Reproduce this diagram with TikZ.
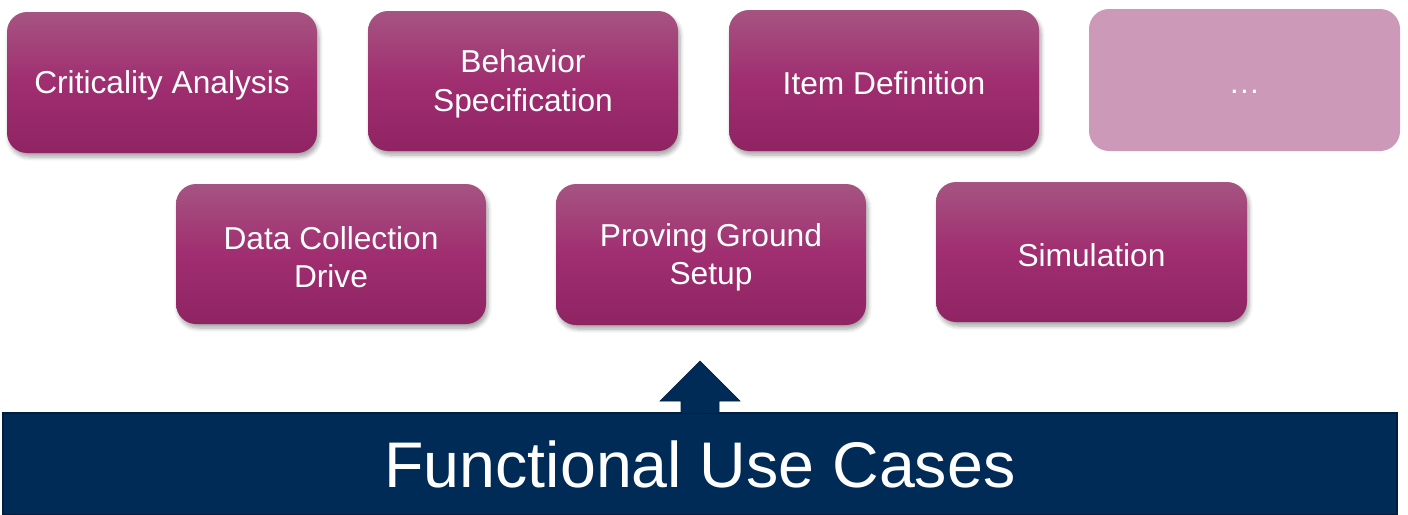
\documentclass[tikz,border=0pt]{standalone}
\usepackage{fontspec}
\setmainfont{Liberation Sans}
\usetikzlibrary{shadows,shadows.blur}
\definecolor{boxtop}{RGB}{166,84,130}
\definecolor{boxmid}{RGB}{160,46,112}
\definecolor{boxbot}{RGB}{143,36,99}
\definecolor{boxlight}{RGB}{205,153,185}
\definecolor{navy}{RGB}{0,43,86}
\definecolor{navyedge}{RGB}{0,30,62}
\tikzset{
  ucbox/.style={rounded corners=20pt, top color=boxtop, bottom color=boxbot, middle color=boxmid,
    blur shadow={shadow xshift=2pt, shadow yshift=-4pt, shadow blur steps=6, shadow opacity=35, shadow blur radius=4pt},
    inner sep=0pt},
  lightbox/.style={rounded corners=20pt, fill=boxlight, inner sep=0pt},
  uctext/.style={text=white, font=\fontsize{31.7}{38.5}\selectfont, align=center, inner sep=0pt, yshift=-3pt},
}
\begin{document}
\begin{tikzpicture}[x=1pt,y=-1pt]
\useasboundingbox (0,0) rectangle (1408,514);
% top row
\node[ucbox, minimum width=310pt, minimum height=141pt, label={[uctext]center:Criticality Analysis}] (ca) at (162,82.5) {};
\node[ucbox, minimum width=310pt, minimum height=140pt, label={[uctext]center:Behavior\\Specification}] (bs) at (523,81) {};
\node[ucbox, minimum width=310pt, minimum height=141pt, label={[uctext]center:Item Definition}] (id) at (884,80.5) {};
\node[lightbox, minimum width=311pt, minimum height=142pt] (more) at (1244.5,80) {};
\node[uctext, yshift=-9pt] (moretext) at (more.center) {…};
% second row
\node[ucbox, minimum width=310pt, minimum height=140pt, label={[uctext]center:Data Collection\\Drive}] (dc) at (331,254) {};
\node[ucbox, minimum width=310pt, minimum height=141pt, label={[uctext]center:Proving Ground\\Setup}] (pg) at (711,254.5) {};
\node[ucbox, minimum width=311pt, minimum height=140pt, label={[uctext]center:Simulation}] (sim) at (1091.5,252) {};
% bottom bar
\node[fill=navy, draw=navyedge, line width=1.5pt, minimum width=1394pt, minimum height=102pt, inner sep=0pt,
  text=white, font=\fontsize{64.5}{72}\selectfont] (fuc) at (700,464) {Functional Use Cases};
\coordinate (tip) at (700,361);
\fill[navy, draw=navyedge, line width=0.6pt] (681,413.5) -- (681,401) -- (660,401) -- (tip) -- (740,401) -- (719,401) -- (719,413.5) -- cycle;
\end{tikzpicture}
\end{document}
